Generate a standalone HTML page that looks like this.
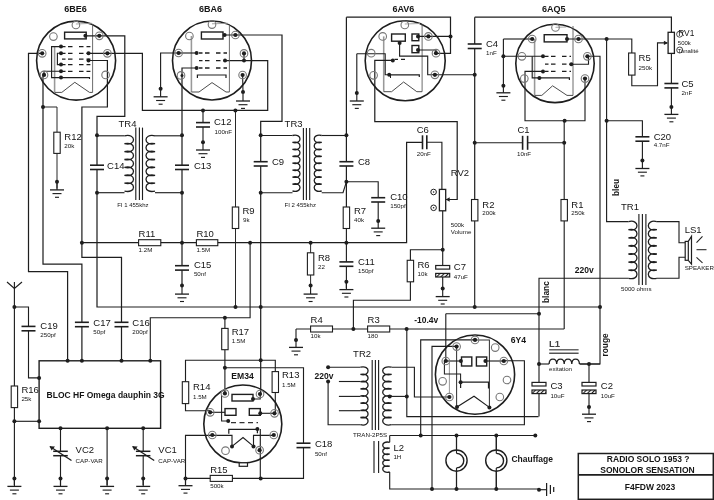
<!DOCTYPE html>
<html><head><meta charset="utf-8"><style>
html,body{margin:0;padding:0;background:#fff;}
svg{display:block;font-family:"Liberation Sans",sans-serif;will-change:transform;}
</style></head><body>
<svg width="714" height="500" viewBox="0 0 714 500">
<defs><pattern id="hatch" width="3" height="3" patternUnits="userSpaceOnUse" patternTransform="rotate(45)"><rect width="3" height="3" fill="#fff"/><line x1="0" y1="0" x2="0" y2="3" stroke="#1e1e1e" stroke-width="2.3"/></pattern></defs>
<rect width="714" height="500" fill="#fff"/>
<circle cx="76.1" cy="60.6" r="39.5" fill="none" stroke="#1e1e1e" stroke-width="1.6"/>
<polyline points="54.6,46.0 54.6,92.4" fill="none" stroke="#999" stroke-width="1.57"/>
<polyline points="92.6,24.0 92.6,92.4" fill="none" stroke="#555" stroke-width="0.87"/>
<polyline points="54.6,92.4 61.8,92.4 74.8,82.3 89.5,92.4 92.6,92.4" fill="none" stroke="#444" stroke-width="0.96"/>
<polyline points="85.4,35.8 124.8,35.8 124.8,116.3 97.0,116.3 97.0,307.0 600.0,307.0" fill="none" stroke="#1e1e1e" stroke-width="1.22"/>
<polyline points="75.9,24.0 92.0,23.3" fill="none" stroke="#999" stroke-width="0.87"/>
<line x1="62.0" y1="46.6" x2="90.4" y2="46.6" stroke="#1e1e1e" stroke-width="1.3" stroke-dasharray="3.5,2.5,4.5,6.5,4.5,3,4.5,60"/>
<line x1="62.0" y1="53.3" x2="90.4" y2="53.3" stroke="#1e1e1e" stroke-width="1.3" stroke-dasharray="3.5,2.5,4.5,6.5,4.5,3,4.5,60"/>
<line x1="62.0" y1="59.2" x2="90.4" y2="59.2" stroke="#1e1e1e" stroke-width="1.3" stroke-dasharray="3.5,2.5,4.5,6.5,4.5,3,4.5,60"/>
<line x1="62.0" y1="64.6" x2="90.4" y2="64.6" stroke="#1e1e1e" stroke-width="1.3" stroke-dasharray="3.5,2.5,4.5,6.5,4.5,3,4.5,60"/>
<line x1="62.0" y1="71.3" x2="90.4" y2="71.3" stroke="#1e1e1e" stroke-width="1.3" stroke-dasharray="3.5,2.5,4.5,6.5,4.5,3,4.5,60"/>
<polyline points="61.0,77.6 89.5,77.6 89.5,79.0" fill="none" stroke="#1e1e1e" stroke-width="1.13"/>
<polyline points="61.0,46.6 51.6,46.6 51.6,77.6 61.0,77.6" fill="none" stroke="#1e1e1e" stroke-width="1.13"/>
<polyline points="61.0,53.3 57.4,53.3 57.4,64.6 61.0,64.6" fill="none" stroke="#1e1e1e" stroke-width="1.13"/>
<polyline points="42.2,53.3 28.5,53.3 28.5,271.7 67.6,271.7 67.6,360.8" fill="none" stroke="#1e1e1e" stroke-width="1.22"/>
<polyline points="44.0,74.9 44.0,71.3 61.0,71.3" fill="none" stroke="#1e1e1e" stroke-width="1.13"/>
<polyline points="43.0,74.9 43.0,264.1 81.9,264.1 81.9,360.8" fill="none" stroke="#1e1e1e" stroke-width="1.22"/>
<polyline points="43.0,107.0 57.0,107.0 57.0,132.2" fill="none" stroke="#1e1e1e" stroke-width="0.96"/>
<polyline points="57.0,153.4 57.0,188.5" fill="none" stroke="#1e1e1e" stroke-width="0.96"/>
<polyline points="57.0,182.4 57.0,189.9" fill="none" stroke="#1e1e1e" stroke-width="1.13"/>
<polyline points="50.0,189.9 64.0,189.9" fill="none" stroke="#1e1e1e" stroke-width="1.30"/>
<polyline points="52.5,193.6 61.5,193.6" fill="none" stroke="#1e1e1e" stroke-width="1.13"/>
<polyline points="55.0,197.3 59.0,197.3" fill="none" stroke="#1e1e1e" stroke-width="1.13"/>
<polyline points="88.5,60.5 107.4,60.5 107.4,107.0 81.9,107.0 81.9,257.3 121.5,257.3 121.5,360.8" fill="none" stroke="#1e1e1e" stroke-width="1.22"/>
<polyline points="88.5,53.3 107.4,53.3 142.4,53.3 142.4,110.4 267.7,110.4 267.7,60.6 225.0,60.6" fill="none" stroke="#1e1e1e" stroke-width="1.22"/>
<circle cx="212.0" cy="60.5" r="39.5" fill="none" stroke="#1e1e1e" stroke-width="1.6"/>
<polyline points="191.4,36.0 191.4,92.0" fill="none" stroke="#999" stroke-width="1.57"/>
<polyline points="229.4,24.0 229.4,92.0" fill="none" stroke="#555" stroke-width="0.87"/>
<polyline points="191.4,92.0 199.0,92.0 212.0,82.6 226.0,92.0 229.4,92.0" fill="none" stroke="#444" stroke-width="0.96"/>
<polyline points="224.6,35.0 282.0,35.0 282.0,121.3 260.7,121.3 260.7,393.0" fill="none" stroke="#1e1e1e" stroke-width="1.22"/>
<polyline points="212.0,23.8 228.0,23.3" fill="none" stroke="#999" stroke-width="0.87"/>
<line x1="199.0" y1="53.0" x2="227.0" y2="53.0" stroke="#1e1e1e" stroke-width="1.3" stroke-dasharray="3.5,2.5,4.5,6.5,4.5,3,4.5,60"/>
<line x1="199.0" y1="60.6" x2="227.0" y2="60.6" stroke="#1e1e1e" stroke-width="1.3" stroke-dasharray="3.5,2.5,4.5,6.5,4.5,3,4.5,60"/>
<line x1="199.0" y1="68.0" x2="227.0" y2="68.0" stroke="#1e1e1e" stroke-width="1.3" stroke-dasharray="3.5,2.5,4.5,6.5,4.5,3,4.5,60"/>
<polyline points="197.4,78.0 197.4,75.0 226.0,75.0 226.0,78.0" fill="none" stroke="#1e1e1e" stroke-width="1.22"/>
<polyline points="178.6,53.0 160.6,53.0 160.6,88.7" fill="none" stroke="#1e1e1e" stroke-width="1.13"/>
<polyline points="160.6,89.3 160.6,96.8" fill="none" stroke="#1e1e1e" stroke-width="1.13"/>
<polyline points="153.6,96.8 167.6,96.8" fill="none" stroke="#1e1e1e" stroke-width="1.30"/>
<polyline points="156.1,100.5 165.1,100.5" fill="none" stroke="#1e1e1e" stroke-width="1.13"/>
<polyline points="158.6,104.2 162.6,104.2" fill="none" stroke="#1e1e1e" stroke-width="1.13"/>
<polyline points="178.6,53.0 196.6,53.0" fill="none" stroke="#1e1e1e" stroke-width="1.13"/>
<polyline points="244.0,53.4 244.0,60.6" fill="none" stroke="#1e1e1e" stroke-width="1.13"/>
<polyline points="242.6,75.0 243.0,92.0" fill="none" stroke="#1e1e1e" stroke-width="1.13"/>
<polyline points="243.0,93.5 243.0,101.0" fill="none" stroke="#1e1e1e" stroke-width="1.13"/>
<polyline points="236.0,101.0 250.0,101.0" fill="none" stroke="#1e1e1e" stroke-width="1.30"/>
<polyline points="238.5,104.7 247.5,104.7" fill="none" stroke="#1e1e1e" stroke-width="1.13"/>
<polyline points="241.0,108.4 245.0,108.4" fill="none" stroke="#1e1e1e" stroke-width="1.13"/>
<polyline points="196.6,68.0 182.0,68.0 182.0,285.5" fill="none" stroke="#1e1e1e" stroke-width="1.22"/>
<polyline points="203.0,110.4 203.0,142.3" fill="none" stroke="#1e1e1e" stroke-width="1.13"/>
<polyline points="203.0,142.5 203.0,150.0" fill="none" stroke="#1e1e1e" stroke-width="1.13"/>
<polyline points="196.0,150.0 210.0,150.0" fill="none" stroke="#1e1e1e" stroke-width="1.30"/>
<polyline points="198.5,153.7 207.5,153.7" fill="none" stroke="#1e1e1e" stroke-width="1.13"/>
<polyline points="201.0,157.4 205.0,157.4" fill="none" stroke="#1e1e1e" stroke-width="1.13"/>
<polyline points="235.5,110.4 235.5,207.0" fill="none" stroke="#1e1e1e" stroke-width="0.96"/>
<polyline points="235.5,228.5 235.5,307.0" fill="none" stroke="#1e1e1e" stroke-width="0.96"/>
<polyline points="97.0,135.8 124.5,135.8" fill="none" stroke="#1e1e1e" stroke-width="1.13"/>
<polyline points="97.0,192.7 124.5,192.7" fill="none" stroke="#1e1e1e" stroke-width="1.13"/>
<path d="M124.5,135.8 C136.5,133.0 136.5,146.5 124.5,143.7 C136.5,140.9 136.5,154.4 124.5,151.6 C136.5,148.8 136.5,162.3 124.5,159.5 C136.5,156.7 136.5,170.2 124.5,167.4 C136.5,164.6 136.5,178.1 124.5,175.3 C136.5,172.5 136.5,186.0 124.5,183.2 C136.5,180.4 136.5,193.9 124.5,191.1 " fill="none" stroke="#1e1e1e" stroke-width="1.3"/>
<polyline points="135.8,127.6 135.8,200.0" fill="none" stroke="#1e1e1e" stroke-width="1.13"/>
<polyline points="139.4,127.6 139.4,200.0" fill="none" stroke="#1e1e1e" stroke-width="1.13"/>
<polyline points="142.5,127.6 142.5,200.0" fill="none" stroke="#1e1e1e" stroke-width="1.13"/>
<path d="M155.0,135.8 C143.0,133.0 143.0,146.5 155.0,143.7 C143.0,140.9 143.0,154.4 155.0,151.6 C143.0,148.8 143.0,162.3 155.0,159.5 C143.0,156.7 143.0,170.2 155.0,167.4 C143.0,164.6 143.0,178.1 155.0,175.3 C143.0,172.5 143.0,186.0 155.0,183.2 C143.0,180.4 143.0,193.9 155.0,191.1 " fill="none" stroke="#1e1e1e" stroke-width="1.3"/>
<polyline points="155.0,135.8 182.0,135.8" fill="none" stroke="#1e1e1e" stroke-width="1.13"/>
<polyline points="155.0,192.7 182.0,192.7" fill="none" stroke="#1e1e1e" stroke-width="1.13"/>
<polyline points="260.7,135.5 292.5,135.5" fill="none" stroke="#1e1e1e" stroke-width="1.13"/>
<polyline points="260.7,192.7 292.5,192.7" fill="none" stroke="#1e1e1e" stroke-width="1.13"/>
<path d="M292.5,135.5 C302.5,133.1 302.5,144.9 292.5,142.4 C302.5,140.0 302.5,151.8 292.5,149.4 C302.5,146.9 302.5,158.7 292.5,156.3 C302.5,153.9 302.5,165.7 292.5,163.2 C302.5,160.8 302.5,172.6 292.5,170.2 C302.5,167.8 302.5,179.6 292.5,177.1 C302.5,174.7 302.5,186.5 292.5,184.1 C302.5,181.6 302.5,193.4 292.5,191.0 " fill="none" stroke="#1e1e1e" stroke-width="1.3"/>
<polyline points="303.4,128.0 303.4,200.0" fill="none" stroke="#1e1e1e" stroke-width="1.13"/>
<polyline points="306.4,128.0 306.4,200.0" fill="none" stroke="#1e1e1e" stroke-width="1.13"/>
<polyline points="309.7,128.0 309.7,200.0" fill="none" stroke="#1e1e1e" stroke-width="1.13"/>
<path d="M321.7,135.5 C311.7,133.1 311.7,144.9 321.7,142.4 C311.7,140.0 311.7,151.8 321.7,149.4 C311.7,146.9 311.7,158.7 321.7,156.3 C311.7,153.9 311.7,165.7 321.7,163.2 C311.7,160.8 311.7,172.6 321.7,170.2 C311.7,167.8 311.7,179.6 321.7,177.1 C311.7,174.7 311.7,186.5 321.7,184.1 C311.7,181.6 311.7,193.4 321.7,191.0 " fill="none" stroke="#1e1e1e" stroke-width="1.3"/>
<polyline points="321.7,135.5 346.4,135.5" fill="none" stroke="#1e1e1e" stroke-width="1.13"/>
<polyline points="321.7,192.7 343.0,192.7 346.4,181.8" fill="none" stroke="#1e1e1e" stroke-width="1.13"/>
<polyline points="346.4,17.2 450.5,17.2 450.5,53.4 436.0,53.4" fill="none" stroke="#1e1e1e" stroke-width="1.22"/>
<polyline points="346.4,17.2 346.4,207.0" fill="none" stroke="#1e1e1e" stroke-width="1.22"/>
<polyline points="346.4,228.5 346.4,288.0" fill="none" stroke="#1e1e1e" stroke-width="1.13"/>
<polyline points="346.4,181.8 378.2,181.8 378.2,221.0" fill="none" stroke="#1e1e1e" stroke-width="1.13"/>
<polyline points="378.2,220.7 378.2,228.2" fill="none" stroke="#1e1e1e" stroke-width="1.13"/>
<polyline points="371.2,228.2 385.2,228.2" fill="none" stroke="#1e1e1e" stroke-width="1.30"/>
<polyline points="373.7,231.9 382.7,231.9" fill="none" stroke="#1e1e1e" stroke-width="1.13"/>
<polyline points="376.2,235.6 380.2,235.6" fill="none" stroke="#1e1e1e" stroke-width="1.13"/>
<polyline points="346.4,282.1 346.4,289.6" fill="none" stroke="#1e1e1e" stroke-width="1.13"/>
<polyline points="339.4,289.6 353.4,289.6" fill="none" stroke="#1e1e1e" stroke-width="1.30"/>
<polyline points="341.9,293.3 350.9,293.3" fill="none" stroke="#1e1e1e" stroke-width="1.13"/>
<polyline points="344.4,297.0 348.4,297.0" fill="none" stroke="#1e1e1e" stroke-width="1.13"/>
<polyline points="81.9,242.7 406.6,242.7 406.6,142.3 422.5,142.3" fill="none" stroke="#1e1e1e" stroke-width="1.22"/>
<polyline points="182.0,286.6 182.0,294.1" fill="none" stroke="#1e1e1e" stroke-width="1.13"/>
<polyline points="175.0,294.1 189.0,294.1" fill="none" stroke="#1e1e1e" stroke-width="1.30"/>
<polyline points="177.5,297.8 186.5,297.8" fill="none" stroke="#1e1e1e" stroke-width="1.13"/>
<polyline points="180.0,301.5 184.0,301.5" fill="none" stroke="#1e1e1e" stroke-width="1.13"/>
<polyline points="310.6,242.7 310.6,285.5" fill="none" stroke="#1e1e1e" stroke-width="0.96"/>
<polyline points="310.6,286.6 310.6,294.1" fill="none" stroke="#1e1e1e" stroke-width="1.13"/>
<polyline points="303.6,294.1 317.6,294.1" fill="none" stroke="#1e1e1e" stroke-width="1.30"/>
<polyline points="306.1,297.8 315.1,297.8" fill="none" stroke="#1e1e1e" stroke-width="1.13"/>
<polyline points="308.6,301.5 312.6,301.5" fill="none" stroke="#1e1e1e" stroke-width="1.13"/>
<circle cx="405.2" cy="60.8" r="40" fill="none" stroke="#1e1e1e" stroke-width="1.6"/>
<polyline points="383.7,36.4 383.7,91.7" fill="none" stroke="#999" stroke-width="1.57"/>
<polyline points="422.1,24.0 422.1,91.7" fill="none" stroke="#555" stroke-width="0.87"/>
<polyline points="383.7,91.7 391.6,91.7 403.6,82.0 416.8,91.7 422.1,91.7" fill="none" stroke="#444" stroke-width="0.96"/>
<polyline points="418.0,36.4 450.5,36.4" fill="none" stroke="#1e1e1e" stroke-width="1.13"/>
<polyline points="418.0,50.0 436.0,50.0 436.0,53.4" fill="none" stroke="#1e1e1e" stroke-width="1.13"/>
<polyline points="404.8,24.0 420.0,23.5" fill="none" stroke="#999" stroke-width="0.87"/>
<polyline points="399.6,41.2 399.6,56.1 427.7,56.1 427.7,74.8 474.7,74.8" fill="none" stroke="#1e1e1e" stroke-width="1.13"/>
<line x1="394.5" y1="59.4" x2="405" y2="59.4" stroke="#1e1e1e" stroke-width="1.2" stroke-dasharray="3.5,3,4,50"/>
<polyline points="392.8,60.4 374.8,60.4 374.8,121.7 457.2,121.7 457.2,199.5 446.0,199.5" fill="none" stroke="#1e1e1e" stroke-width="1.22"/>
<path d="M445.7,199.5 l4,-2.2 v4.4 z" fill="#1e1e1e"/>
<polyline points="389.2,74.8 419.3,74.8 419.3,77.0" fill="none" stroke="#1e1e1e" stroke-width="1.22"/>
<polyline points="390.5,74.8 390.5,78.0" fill="none" stroke="#1e1e1e" stroke-width="1.04"/>
<polyline points="356.8,53.7 385.2,53.7 385.2,74.8 389.2,74.8" fill="none" stroke="#1e1e1e" stroke-width="1.13"/>
<polyline points="356.8,53.7 356.8,92.9" fill="none" stroke="#1e1e1e" stroke-width="1.13"/>
<polyline points="356.8,93.5 356.8,101.0" fill="none" stroke="#1e1e1e" stroke-width="1.13"/>
<polyline points="349.8,101.0 363.8,101.0" fill="none" stroke="#1e1e1e" stroke-width="1.30"/>
<polyline points="352.3,104.7 361.3,104.7" fill="none" stroke="#1e1e1e" stroke-width="1.13"/>
<polyline points="354.8,108.4 358.8,108.4" fill="none" stroke="#1e1e1e" stroke-width="1.13"/>
<polyline points="474.7,17.2 671.4,17.2 671.4,32.3" fill="none" stroke="#1e1e1e" stroke-width="1.22"/>
<polyline points="474.7,17.2 474.7,199.5" fill="none" stroke="#1e1e1e" stroke-width="1.22"/>
<polyline points="474.7,142.8 522.6,142.8" fill="none" stroke="#1e1e1e" stroke-width="1.13"/>
<polyline points="527.6,142.8 564.2,142.8" fill="none" stroke="#1e1e1e" stroke-width="1.13"/>
<polyline points="474.7,220.9 474.7,307.0" fill="none" stroke="#1e1e1e" stroke-width="1.13"/>
<polyline points="426.8,142.3 441.9,142.3 441.9,189.4" fill="none" stroke="#1e1e1e" stroke-width="1.13"/>
<circle cx="433.6" cy="192.0" r="2.8" fill="none" stroke="#1e1e1e" stroke-width="1.0"/>
<circle cx="433.6" cy="207.8" r="2.8" fill="none" stroke="#1e1e1e" stroke-width="1.0"/>
<polyline points="442.7,210.8 442.7,249.7 410.4,249.7 410.4,260.3" fill="none" stroke="#1e1e1e" stroke-width="1.13"/>
<polyline points="410.4,281.8 410.4,300.2 353.4,300.2 353.4,329.0" fill="none" stroke="#1e1e1e" stroke-width="1.13"/>
<polyline points="442.7,249.7 442.7,288.6" fill="none" stroke="#1e1e1e" stroke-width="1.13"/>
<polyline points="442.7,289.1 442.7,296.6" fill="none" stroke="#1e1e1e" stroke-width="1.13"/>
<polyline points="435.7,296.6 449.7,296.6" fill="none" stroke="#1e1e1e" stroke-width="1.30"/>
<polyline points="438.2,300.3 447.2,300.3" fill="none" stroke="#1e1e1e" stroke-width="1.13"/>
<polyline points="440.7,304.0 444.7,304.0" fill="none" stroke="#1e1e1e" stroke-width="1.13"/>
<circle cx="555.0" cy="63.4" r="39.2" fill="none" stroke="#1e1e1e" stroke-width="1.6"/>
<polyline points="534.6,39.0 534.6,95.4" fill="none" stroke="#999" stroke-width="1.57"/>
<polyline points="573.0,26.0 573.0,95.4" fill="none" stroke="#555" stroke-width="0.87"/>
<polyline points="534.6,95.4 541.8,95.4 552.6,85.8 567.0,95.4 573.0,95.4" fill="none" stroke="#444" stroke-width="0.96"/>
<polyline points="503.4,39.0 532.2,39.0" fill="none" stroke="#1e1e1e" stroke-width="1.13"/>
<polyline points="503.4,39.0 503.4,85.8" fill="none" stroke="#1e1e1e" stroke-width="1.13"/>
<polyline points="503.4,85.3 503.4,92.8" fill="none" stroke="#1e1e1e" stroke-width="1.13"/>
<polyline points="496.4,92.8 510.4,92.8" fill="none" stroke="#1e1e1e" stroke-width="1.30"/>
<polyline points="498.9,96.5 507.9,96.5" fill="none" stroke="#1e1e1e" stroke-width="1.13"/>
<polyline points="501.4,100.2 505.4,100.2" fill="none" stroke="#1e1e1e" stroke-width="1.13"/>
<polyline points="503.4,56.3 543.0,56.3" fill="none" stroke="#1e1e1e" stroke-width="1.13"/>
<line x1="545.0" y1="56.3" x2="571.0" y2="56.3" stroke="#1e1e1e" stroke-width="1.3" stroke-dasharray="3.5,2.5,4.5,6.5,4.5,3,4.5,60"/>
<line x1="545.0" y1="64.2" x2="571.0" y2="64.2" stroke="#1e1e1e" stroke-width="1.3" stroke-dasharray="3.5,2.5,4.5,6.5,4.5,3,4.5,60"/>
<line x1="545.0" y1="71.4" x2="571.0" y2="71.4" stroke="#1e1e1e" stroke-width="1.3" stroke-dasharray="3.5,2.5,4.5,6.5,4.5,3,4.5,60"/>
<polyline points="539.4,80.0 539.4,77.9 569.4,77.9 569.4,80.0" fill="none" stroke="#1e1e1e" stroke-width="1.22"/>
<polyline points="532.2,56.3 532.2,77.9 539.4,77.9" fill="none" stroke="#1e1e1e" stroke-width="1.13"/>
<polyline points="543.0,71.4 525.0,71.4 525.0,120.8 585.0,120.8 585.0,78.6" fill="none" stroke="#1e1e1e" stroke-width="1.13"/>
<polyline points="571.3,64.2 588.5,64.2 588.5,56.3" fill="none" stroke="#1e1e1e" stroke-width="1.13"/>
<polyline points="555.5,27.3 566.3,27.0" fill="none" stroke="#999" stroke-width="0.87"/>
<polyline points="567.0,39.0 631.8,39.0 631.8,53.0" fill="none" stroke="#1e1e1e" stroke-width="1.13"/>
<polyline points="631.8,75.1 631.8,85.7 657.5,85.7 657.5,42.9 667.0,42.9" fill="none" stroke="#1e1e1e" stroke-width="1.13"/>
<path d="M668.1,42.9 l-4.2,-2.2 v4.4 z" fill="#1e1e1e"/>
<polyline points="671.4,53.4 671.4,107.1" fill="none" stroke="#1e1e1e" stroke-width="1.13"/>
<polyline points="671.4,106.9 671.4,114.4" fill="none" stroke="#1e1e1e" stroke-width="1.13"/>
<polyline points="664.4,114.4 678.4,114.4" fill="none" stroke="#1e1e1e" stroke-width="1.30"/>
<polyline points="666.9,118.1 675.9,118.1" fill="none" stroke="#1e1e1e" stroke-width="1.13"/>
<polyline points="669.4,121.8 673.4,121.8" fill="none" stroke="#1e1e1e" stroke-width="1.13"/>
<circle cx="679.6" cy="34.2" r="3" fill="none" stroke="#1e1e1e" stroke-width="0.8"/>
<circle cx="679.7" cy="50.0" r="3" fill="none" stroke="#1e1e1e" stroke-width="0.8"/>
<polyline points="587.4,56.3 600.0,56.3 600.0,364.0 580.0,364.0" fill="none" stroke="#1e1e1e" stroke-width="1.13"/>
<polyline points="606.6,39.0 606.6,221.6 628.5,221.6" fill="none" stroke="#1e1e1e" stroke-width="1.13"/>
<polyline points="606.6,120.8 642.4,120.8 642.4,160.4" fill="none" stroke="#1e1e1e" stroke-width="1.13"/>
<polyline points="642.4,161.0 642.4,168.5" fill="none" stroke="#1e1e1e" stroke-width="1.13"/>
<polyline points="635.4,168.5 649.4,168.5" fill="none" stroke="#1e1e1e" stroke-width="1.30"/>
<polyline points="637.9,172.2 646.9,172.2" fill="none" stroke="#1e1e1e" stroke-width="1.13"/>
<polyline points="640.4,175.9 644.4,175.9" fill="none" stroke="#1e1e1e" stroke-width="1.13"/>
<polyline points="564.2,120.8 564.2,199.5" fill="none" stroke="#1e1e1e" stroke-width="1.13"/>
<polyline points="564.2,220.9 564.2,329.0" fill="none" stroke="#1e1e1e" stroke-width="1.13"/>
<path d="M628.5,221.6 C639.8,218.8 639.8,232.5 628.5,229.7 C639.8,226.9 639.8,240.6 628.5,237.8 C639.8,235.0 639.8,248.7 628.5,245.9 C639.8,243.1 639.8,256.8 628.5,254.0 C639.8,251.2 639.8,264.9 628.5,262.1 C639.8,259.3 639.8,273.0 628.5,270.2 C639.8,267.4 639.8,281.1 628.5,278.3 " fill="none" stroke="#1e1e1e" stroke-width="1.3"/>
<polyline points="638.9,214.0 638.9,285.0" fill="none" stroke="#1e1e1e" stroke-width="1.13"/>
<polyline points="642.4,214.0 642.4,285.0" fill="none" stroke="#1e1e1e" stroke-width="1.13"/>
<polyline points="645.9,214.0 645.9,285.0" fill="none" stroke="#1e1e1e" stroke-width="1.13"/>
<path d="M656.8,221.6 C645.5,218.8 645.5,232.5 656.8,229.7 C645.5,226.9 645.5,240.6 656.8,237.8 C645.5,235.0 645.5,248.7 656.8,245.9 C645.5,243.1 645.5,256.8 656.8,254.0 C645.5,251.2 645.5,264.9 656.8,262.1 C645.5,259.3 645.5,273.0 656.8,270.2 C645.5,267.4 645.5,281.1 656.8,278.3 " fill="none" stroke="#1e1e1e" stroke-width="1.3"/>
<polyline points="628.5,278.3 539.0,278.3 539.0,416.6" fill="none" stroke="#1e1e1e" stroke-width="1.13"/>
<polyline points="656.8,221.6 679.0,221.6 679.0,242.7 685.2,242.7" fill="none" stroke="#1e1e1e" stroke-width="1.13"/>
<polyline points="656.8,278.3 679.0,278.3 679.0,257.3 685.2,257.3" fill="none" stroke="#1e1e1e" stroke-width="1.13"/>
<path d="M688.3,241.4 L691.5,236.4 L691.5,264.1 L688.3,260.3" fill="none" stroke="#1e1e1e" stroke-width="1.2"/>
<polyline points="696.5,242.7 702.5,236.4" fill="none" stroke="#1e1e1e" stroke-width="1.04"/>
<polyline points="696.5,249.7 706.5,249.7" fill="none" stroke="#1e1e1e" stroke-width="1.04"/>
<polyline points="696.5,257.3 702.5,262.8" fill="none" stroke="#1e1e1e" stroke-width="1.04"/>
<polyline points="296.0,329.0 564.2,329.0" fill="none" stroke="#1e1e1e" stroke-width="1.13"/>
<polyline points="296.0,329.0 296.0,340.0" fill="none" stroke="#1e1e1e" stroke-width="1.13"/>
<polyline points="296.0,339.9 296.0,347.4" fill="none" stroke="#1e1e1e" stroke-width="1.13"/>
<polyline points="289.0,347.4 303.0,347.4" fill="none" stroke="#1e1e1e" stroke-width="1.30"/>
<polyline points="291.5,351.1 300.5,351.1" fill="none" stroke="#1e1e1e" stroke-width="1.13"/>
<polyline points="294.0,354.8 298.0,354.8" fill="none" stroke="#1e1e1e" stroke-width="1.13"/>
<polyline points="406.8,329.0 406.8,416.6 538.5,416.6" fill="none" stroke="#1e1e1e" stroke-width="1.13"/>
<polyline points="445.8,313.8 539.0,313.8" fill="none" stroke="#1e1e1e" stroke-width="1.13"/>
<polyline points="445.8,313.8 445.8,361.0" fill="none" stroke="#1e1e1e" stroke-width="1.13"/>
<circle cx="475.0" cy="374.6" r="39.6" fill="none" stroke="#1e1e1e" stroke-width="1.6"/>
<polyline points="449.4,363.0 449.4,394.0" fill="none" stroke="#888" stroke-width="0.87"/>
<polyline points="475.0,339.9 489.4,339.9 489.4,407.4" fill="none" stroke="#333" stroke-width="1.04"/>
<polyline points="456.6,346.6 456.6,407.0" fill="none" stroke="#333" stroke-width="1.04"/>
<polyline points="457.0,407.0 474.0,396.2 489.4,407.4" fill="none" stroke="#1e1e1e" stroke-width="1.13"/>
<polyline points="445.8,361.0 460.9,361.0" fill="none" stroke="#1e1e1e" stroke-width="1.13"/>
<polyline points="485.4,361.0 503.8,361.0" fill="none" stroke="#1e1e1e" stroke-width="1.13"/>
<polyline points="445.8,361.0 444.4,361.0 444.4,374.1 460.6,374.1 460.6,382.2" fill="none" stroke="#1e1e1e" stroke-width="1.04"/>
<polyline points="460.6,388.0 460.6,382.2 488.5,382.2 488.5,388.5" fill="none" stroke="#1e1e1e" stroke-width="1.22"/>
<polyline points="475.0,339.9 420.7,339.9 420.7,435.5" fill="none" stroke="#1e1e1e" stroke-width="1.13"/>
<polyline points="456.5,346.4 432.0,346.4 432.0,489.0" fill="none" stroke="#1e1e1e" stroke-width="1.13"/>
<polyline points="328.1,367.2 360.5,367.2" fill="none" stroke="#1e1e1e" stroke-width="1.13"/>
<polyline points="328.1,381.5 328.1,424.7 360.5,424.7" fill="none" stroke="#1e1e1e" stroke-width="1.13"/>
<polyline points="338.9,381.5 360.5,381.5" fill="none" stroke="#1e1e1e" stroke-width="1.13"/>
<polyline points="338.9,396.4 360.5,396.4" fill="none" stroke="#1e1e1e" stroke-width="1.13"/>
<polyline points="338.9,410.7 360.5,410.7" fill="none" stroke="#1e1e1e" stroke-width="1.13"/>
<path d="M360.5,367.2 C370.6,364.7 370.6,376.9 360.5,374.4 C370.6,371.9 370.6,384.1 360.5,381.6 C370.6,379.1 370.6,391.3 360.5,388.8 C370.6,386.2 370.6,398.5 360.5,395.9 C370.6,393.4 370.6,405.7 360.5,403.1 C370.6,400.6 370.6,412.8 360.5,410.3 C370.6,407.8 370.6,420.0 360.5,417.5 C370.6,415.0 370.6,427.2 360.5,424.7 " fill="none" stroke="#1e1e1e" stroke-width="1.3"/>
<polyline points="372.2,359.9 372.2,430.0" fill="none" stroke="#1e1e1e" stroke-width="1.13"/>
<polyline points="375.4,359.9 375.4,430.0" fill="none" stroke="#1e1e1e" stroke-width="1.13"/>
<polyline points="378.6,359.9 378.6,430.0" fill="none" stroke="#1e1e1e" stroke-width="1.13"/>
<path d="M391.6,367.2 C379.7,364.7 379.7,376.9 391.6,374.4 C379.7,371.9 379.7,384.1 391.6,381.6 C379.7,379.1 379.7,391.3 391.6,388.8 C379.7,386.2 379.7,398.5 391.6,395.9 C379.7,393.4 379.7,405.7 391.6,403.1 C379.7,400.6 379.7,412.8 391.6,410.3 C379.7,407.8 379.7,420.0 391.6,417.5 C379.7,415.0 379.7,427.2 391.6,424.7 " fill="none" stroke="#1e1e1e" stroke-width="1.3"/>
<polyline points="391.6,367.2 414.4,367.2 414.4,397.0 449.4,397.0" fill="none" stroke="#1e1e1e" stroke-width="1.13"/>
<polyline points="389.7,396.4 406.8,396.4" fill="none" stroke="#1e1e1e" stroke-width="1.13"/>
<polyline points="391.6,424.7 524.4,424.7 524.4,360.8 503.9,360.8" fill="none" stroke="#1e1e1e" stroke-width="1.13"/>
<polyline points="389.7,435.5 535.3,435.5" fill="none" stroke="#1e1e1e" stroke-width="1.13"/>
<polyline points="389.7,435.5 389.7,442.3" fill="none" stroke="#1e1e1e" stroke-width="1.13"/>
<path d="M389.7,442.3 C380.4,440.2 380.4,450.3 389.7,448.2 C380.4,446.2 380.4,456.3 389.7,454.2 C380.4,452.1 380.4,462.2 389.7,460.1 C380.4,458.0 380.4,468.1 389.7,466.1 C380.4,464.0 380.4,474.1 389.7,472.0 " fill="none" stroke="#1e1e1e" stroke-width="1.3"/>
<polyline points="374.0,441.0 374.0,473.0" fill="none" stroke="#1e1e1e" stroke-width="1.13"/>
<polyline points="378.6,441.0 378.6,473.0" fill="none" stroke="#1e1e1e" stroke-width="1.13"/>
<polyline points="389.7,472.0 389.7,489.0 539.0,489.0" fill="none" stroke="#1e1e1e" stroke-width="1.13"/>
<polyline points="456.5,435.5 456.5,489.0" fill="none" stroke="#1e1e1e" stroke-width="1.13"/>
<circle cx="456.5" cy="460.6" r="10.6" fill="#fff" stroke="#1e1e1e" stroke-width="1.4"/>
<path d="M456.5,453.4 A6.5,6.5 0 0 1 456.5,467.9" fill="none" stroke="#1e1e1e" stroke-width="1.4"/>
<polyline points="456.5,435.5 456.5,453.4" fill="none" stroke="#1e1e1e" stroke-width="1.13"/>
<polyline points="456.5,467.9 456.5,489.0" fill="none" stroke="#1e1e1e" stroke-width="1.13"/>
<polyline points="496.3,435.5 496.3,489.0" fill="none" stroke="#1e1e1e" stroke-width="1.13"/>
<circle cx="496.3" cy="460.6" r="10.6" fill="#fff" stroke="#1e1e1e" stroke-width="1.4"/>
<path d="M496.3,453.4 A6.5,6.5 0 0 1 496.3,467.9" fill="none" stroke="#1e1e1e" stroke-width="1.4"/>
<polyline points="496.3,435.5 496.3,453.4" fill="none" stroke="#1e1e1e" stroke-width="1.13"/>
<polyline points="496.3,467.9 496.3,489.0" fill="none" stroke="#1e1e1e" stroke-width="1.13"/>
<polyline points="539.0,489.7 546.6,489.7" fill="none" stroke="#1e1e1e" stroke-width="1.13"/>
<polyline points="546.6,483.0 546.6,496.0" fill="none" stroke="#1e1e1e" stroke-width="1.22"/>
<polyline points="550.4,485.0 550.4,494.0" fill="none" stroke="#1e1e1e" stroke-width="1.22"/>
<polyline points="553.7,487.0 553.7,492.0" fill="none" stroke="#1e1e1e" stroke-width="1.22"/>
<polyline points="539.0,364.0 549.1,364.0" fill="none" stroke="#1e1e1e" stroke-width="1.13"/>
<path d="M549.1,364.0 C549.1,357.4 556.7,357.4 556.7,364.0 C556.7,357.4 564.2,357.4 564.2,364.0 C564.2,357.4 571.8,357.4 571.8,364.0 C571.8,357.4 579.4,357.4 579.4,364.0 " fill="none" stroke="#1e1e1e" stroke-width="1.3"/>
<polyline points="579.4,364.0 600.0,364.0" fill="none" stroke="#1e1e1e" stroke-width="1.13"/>
<polyline points="549.2,349.8 578.6,349.8" fill="none" stroke="#444" stroke-width="1.22"/>
<polyline points="549.2,353.2 578.6,353.2" fill="none" stroke="#1e1e1e" stroke-width="1.13"/>
<polyline points="589.0,364.0 589.0,406.9" fill="none" stroke="#1e1e1e" stroke-width="1.13"/>
<polyline points="589.0,406.7 589.0,414.2" fill="none" stroke="#1e1e1e" stroke-width="1.13"/>
<polyline points="582.0,414.2 596.0,414.2" fill="none" stroke="#1e1e1e" stroke-width="1.30"/>
<polyline points="584.5,417.9 593.5,417.9" fill="none" stroke="#1e1e1e" stroke-width="1.13"/>
<polyline points="587.0,421.6 591.0,421.6" fill="none" stroke="#1e1e1e" stroke-width="1.13"/>
<circle cx="242.8" cy="424.0" r="39" fill="none" stroke="#1e1e1e" stroke-width="1.6"/>
<polyline points="253.0,399.0 260.2,399.0 260.2,393.1" fill="none" stroke="#1e1e1e" stroke-width="1.13"/>
<polyline points="210.2,412.3 225.0,412.3" fill="none" stroke="#1e1e1e" stroke-width="1.13"/>
<polyline points="260.3,413.3 275.3,413.3" fill="none" stroke="#1e1e1e" stroke-width="1.13"/>
<polyline points="221.6,395.0 221.6,421.0 228.2,421.0" fill="none" stroke="#1e1e1e" stroke-width="1.04"/>
<line x1="231" y1="422.7" x2="258" y2="422.7" stroke="#333" stroke-width="1.2" stroke-dasharray="5,3.5"/>
<polyline points="228.8,433.7 228.8,429.3 257.4,429.3 257.4,433.2" fill="none" stroke="#1e1e1e" stroke-width="1.22"/>
<polyline points="212.3,435.4 232.0,435.4 232.0,446.4 243.0,437.5 253.5,446.4 253.5,435.4 273.8,435.4" fill="none" stroke="#1e1e1e" stroke-width="1.13"/>
<polyline points="260.3,428.9 260.3,478.4" fill="none" stroke="#1e1e1e" stroke-width="1.13"/>
<polyline points="150.3,360.8 150.3,317.8 250.1,317.8 250.1,242.7" fill="none" stroke="#1e1e1e" stroke-width="1.13"/>
<polyline points="224.9,317.8 224.9,328.4" fill="none" stroke="#1e1e1e" stroke-width="1.13"/>
<polyline points="224.9,349.7 224.9,393.0" fill="none" stroke="#1e1e1e" stroke-width="1.13"/>
<polyline points="224.9,367.8 303.5,367.8 303.5,478.4 185.5,478.4" fill="none" stroke="#1e1e1e" stroke-width="1.13"/>
<polyline points="185.5,381.7 185.5,360.2 275.3,360.2 275.3,371.6" fill="none" stroke="#1e1e1e" stroke-width="1.13"/>
<polyline points="185.5,403.6 185.5,410.7 210.2,410.7" fill="none" stroke="#1e1e1e" stroke-width="1.13"/>
<polyline points="275.3,392.5 275.3,413.2" fill="none" stroke="#1e1e1e" stroke-width="1.13"/>
<polyline points="212.3,435.4 185.5,435.4 185.5,485.0" fill="none" stroke="#1e1e1e" stroke-width="1.13"/>
<polyline points="185.5,478.2 185.5,485.7" fill="none" stroke="#1e1e1e" stroke-width="1.13"/>
<polyline points="178.5,485.7 192.5,485.7" fill="none" stroke="#1e1e1e" stroke-width="1.30"/>
<polyline points="181.0,489.4 190.0,489.4" fill="none" stroke="#1e1e1e" stroke-width="1.13"/>
<polyline points="183.5,493.1 187.5,493.1" fill="none" stroke="#1e1e1e" stroke-width="1.13"/>
<polyline points="14.4,282.0 14.4,485.0" fill="none" stroke="#1e1e1e" stroke-width="1.13"/>
<polyline points="7.0,282.0 14.4,288.5 22.0,282.0" fill="none" stroke="#1e1e1e" stroke-width="1.13"/>
<polyline points="14.4,307.0 28.5,307.0 28.5,377.9 39.1,377.9" fill="none" stroke="#1e1e1e" stroke-width="1.13"/>
<polyline points="14.4,421.3 39.1,421.3" fill="none" stroke="#1e1e1e" stroke-width="1.13"/>
<polyline points="14.4,478.9 14.4,486.4" fill="none" stroke="#1e1e1e" stroke-width="1.13"/>
<polyline points="7.4,486.4 21.4,486.4" fill="none" stroke="#1e1e1e" stroke-width="1.30"/>
<polyline points="9.9,490.1 18.9,490.1" fill="none" stroke="#1e1e1e" stroke-width="1.13"/>
<polyline points="12.4,493.8 16.4,493.8" fill="none" stroke="#1e1e1e" stroke-width="1.13"/>
<polyline points="60.5,428.3 60.5,485.0" fill="none" stroke="#1e1e1e" stroke-width="1.13"/>
<polyline points="60.5,478.9 60.5,486.4" fill="none" stroke="#1e1e1e" stroke-width="1.13"/>
<polyline points="53.5,486.4 67.5,486.4" fill="none" stroke="#1e1e1e" stroke-width="1.30"/>
<polyline points="56.0,490.1 65.0,490.1" fill="none" stroke="#1e1e1e" stroke-width="1.13"/>
<polyline points="58.5,493.8 62.5,493.8" fill="none" stroke="#1e1e1e" stroke-width="1.13"/>
<polyline points="107.1,428.3 107.1,485.0" fill="none" stroke="#1e1e1e" stroke-width="1.13"/>
<polyline points="107.1,478.9 107.1,486.4" fill="none" stroke="#1e1e1e" stroke-width="1.13"/>
<polyline points="100.1,486.4 114.1,486.4" fill="none" stroke="#1e1e1e" stroke-width="1.30"/>
<polyline points="102.6,490.1 111.6,490.1" fill="none" stroke="#1e1e1e" stroke-width="1.13"/>
<polyline points="105.1,493.8 109.1,493.8" fill="none" stroke="#1e1e1e" stroke-width="1.13"/>
<polyline points="143.2,428.3 143.2,485.0" fill="none" stroke="#1e1e1e" stroke-width="1.13"/>
<polyline points="143.2,478.9 143.2,486.4" fill="none" stroke="#1e1e1e" stroke-width="1.13"/>
<polyline points="136.2,486.4 150.2,486.4" fill="none" stroke="#1e1e1e" stroke-width="1.30"/>
<polyline points="138.7,490.1 147.7,490.1" fill="none" stroke="#1e1e1e" stroke-width="1.13"/>
<polyline points="141.2,493.8 145.2,493.8" fill="none" stroke="#1e1e1e" stroke-width="1.13"/>
<polyline points="578.3,474.9 713.3,474.9" fill="none" stroke="#1e1e1e" stroke-width="1.57"/>
<rect x="64.6" y="32.2" width="21.6" height="6.7" fill="#fff" stroke="#1e1e1e" stroke-width="1.4"/>
<rect x="53.8" y="132.2" width="6.4" height="21.2" fill="#fff" stroke="#1e1e1e" stroke-width="1.1"/>
<rect x="201.4" y="32.0" width="21.6" height="7.0" fill="#fff" stroke="#1e1e1e" stroke-width="1.4"/>
<rect x="200.0" y="122.6" width="6" height="4.4" fill="#fff"/>
<polyline points="196.0,122.6 210.0,122.6" fill="none" stroke="#1e1e1e" stroke-width="1.6"/>
<polyline points="196.0,127.0 210.0,127.0" fill="none" stroke="#1e1e1e" stroke-width="1.6"/>
<rect x="232.3" y="207.0" width="6.4" height="21.5" fill="#fff" stroke="#1e1e1e" stroke-width="1.1"/>
<rect x="94.0" y="165.2" width="6" height="4.4" fill="#fff"/>
<polyline points="90.0,165.2 104.0,165.2" fill="none" stroke="#1e1e1e" stroke-width="1.6"/>
<polyline points="90.0,169.5 104.0,169.5" fill="none" stroke="#1e1e1e" stroke-width="1.6"/>
<rect x="179.0" y="165.2" width="6" height="4.4" fill="#fff"/>
<polyline points="175.0,165.2 189.0,165.2" fill="none" stroke="#1e1e1e" stroke-width="1.6"/>
<polyline points="175.0,169.5 189.0,169.5" fill="none" stroke="#1e1e1e" stroke-width="1.6"/>
<rect x="257.7" y="161.7" width="6" height="4.4" fill="#fff"/>
<polyline points="253.7,161.7 267.7,161.7" fill="none" stroke="#1e1e1e" stroke-width="1.6"/>
<polyline points="253.7,166.0 267.7,166.0" fill="none" stroke="#1e1e1e" stroke-width="1.6"/>
<rect x="343.4" y="161.7" width="6" height="4.4" fill="#fff"/>
<polyline points="339.4,161.7 353.4,161.7" fill="none" stroke="#1e1e1e" stroke-width="1.6"/>
<polyline points="339.4,166.0 353.4,166.0" fill="none" stroke="#1e1e1e" stroke-width="1.6"/>
<rect x="343.2" y="207.0" width="6.4" height="21.5" fill="#fff" stroke="#1e1e1e" stroke-width="1.1"/>
<rect x="375.2" y="197.7" width="6" height="4.4" fill="#fff"/>
<polyline points="371.2,197.7 385.2,197.7" fill="none" stroke="#1e1e1e" stroke-width="1.6"/>
<polyline points="371.2,202.0 385.2,202.0" fill="none" stroke="#1e1e1e" stroke-width="1.6"/>
<rect x="343.4" y="261.9" width="6" height="4.4" fill="#fff"/>
<polyline points="339.4,261.9 353.4,261.9" fill="none" stroke="#1e1e1e" stroke-width="1.6"/>
<polyline points="339.4,266.3 353.4,266.3" fill="none" stroke="#1e1e1e" stroke-width="1.6"/>
<rect x="138.6" y="239.7" width="22.2" height="6.0" fill="#fff" stroke="#1e1e1e" stroke-width="1.1"/>
<rect x="196.4" y="239.7" width="21.4" height="6.0" fill="#fff" stroke="#1e1e1e" stroke-width="1.1"/>
<rect x="179.0" y="265.7" width="6" height="4.4" fill="#fff"/>
<polyline points="175.0,265.7 189.0,265.7" fill="none" stroke="#1e1e1e" stroke-width="1.6"/>
<polyline points="175.0,270.1 189.0,270.1" fill="none" stroke="#1e1e1e" stroke-width="1.6"/>
<rect x="307.4" y="252.8" width="6.4" height="22.2" fill="#fff" stroke="#1e1e1e" stroke-width="1.1"/>
<rect x="391.6" y="34.0" width="13.7" height="7.2" fill="#fff" stroke="#1e1e1e" stroke-width="1.4"/>
<rect x="412.0" y="34.0" width="6.8" height="6.7" fill="#fff" stroke="#1e1e1e" stroke-width="1.4"/>
<rect x="412.0" y="45.5" width="6.8" height="7.2" fill="#fff" stroke="#1e1e1e" stroke-width="1.4"/>
<rect x="471.7" y="44.0" width="6" height="4.4" fill="#fff"/>
<polyline points="467.7,44.0 481.7,44.0" fill="none" stroke="#1e1e1e" stroke-width="1.6"/>
<polyline points="467.7,48.5 481.7,48.5" fill="none" stroke="#1e1e1e" stroke-width="1.6"/>
<rect x="522.6" y="139.8" width="5.0" height="6" fill="#fff"/>
<polyline points="522.6,135.8 522.6,149.8" fill="none" stroke="#1e1e1e" stroke-width="1.6"/>
<polyline points="527.6,135.8 527.6,149.8" fill="none" stroke="#1e1e1e" stroke-width="1.6"/>
<rect x="471.5" y="199.5" width="6.4" height="21.4" fill="#fff" stroke="#1e1e1e" stroke-width="1.1"/>
<rect x="422.5" y="139.3" width="4.3" height="6" fill="#fff"/>
<polyline points="422.5,135.3 422.5,149.3" fill="none" stroke="#1e1e1e" stroke-width="1.6"/>
<polyline points="426.8,135.3 426.8,149.3" fill="none" stroke="#1e1e1e" stroke-width="1.6"/>
<rect x="439.4" y="189.4" width="6.3" height="21.4" fill="#fff" stroke="#1e1e1e" stroke-width="1.3"/>
<rect x="407.2" y="260.3" width="6.4" height="21.5" fill="#fff" stroke="#1e1e1e" stroke-width="1.1"/>
<rect x="439.7" y="267.3" width="6" height="7.9" fill="#fff"/>
<rect x="435.7" y="265.5" width="14.0" height="3.6" fill="#fff" stroke="#1e1e1e" stroke-width="1.2"/>
<rect x="435.7" y="273.4" width="14" height="3.6" fill="url(#hatch)" stroke="#1e1e1e" stroke-width="1.2"/>
<rect x="544.2" y="34.7" width="22.8" height="7.2" fill="#fff" stroke="#1e1e1e" stroke-width="1.4"/>
<rect x="628.6" y="53.0" width="6.4" height="22.1" fill="#fff" stroke="#1e1e1e" stroke-width="1.1"/>
<rect x="668.1" y="32.3" width="6.3" height="21.1" fill="#fff" stroke="#1e1e1e" stroke-width="1.3"/>
<rect x="668.4" y="83.5" width="6" height="4.4" fill="#fff"/>
<polyline points="664.4,83.5 678.4,83.5" fill="none" stroke="#1e1e1e" stroke-width="1.6"/>
<polyline points="664.4,87.9 678.4,87.9" fill="none" stroke="#1e1e1e" stroke-width="1.6"/>
<rect x="639.4" y="136.8" width="6" height="4.4" fill="#fff"/>
<polyline points="635.4,136.8 649.4,136.8" fill="none" stroke="#1e1e1e" stroke-width="1.6"/>
<polyline points="635.4,141.2 649.4,141.2" fill="none" stroke="#1e1e1e" stroke-width="1.6"/>
<rect x="561.0" y="199.5" width="6.4" height="21.4" fill="#fff" stroke="#1e1e1e" stroke-width="1.1"/>
<rect x="685.2" y="241.4" width="3.1" height="18.9" fill="#fff" stroke="#1e1e1e" stroke-width="1.2"/>
<rect x="310.6" y="326.0" width="21.9" height="6.0" fill="#fff" stroke="#1e1e1e" stroke-width="1.1"/>
<rect x="367.6" y="326.0" width="22.1" height="6.0" fill="#fff" stroke="#1e1e1e" stroke-width="1.1"/>
<rect x="461.5" y="357.0" width="10.3" height="9.0" fill="#fff" stroke="#1e1e1e" stroke-width="1.4"/>
<rect x="476.4" y="357.0" width="10.3" height="9.0" fill="#fff" stroke="#1e1e1e" stroke-width="1.4"/>
<rect x="536.0" y="384.2" width="6" height="7.6" fill="#fff"/>
<rect x="532.0" y="382.4" width="14.0" height="3.6" fill="#fff" stroke="#1e1e1e" stroke-width="1.2"/>
<rect x="532.0" y="390.0" width="14" height="3.6" fill="url(#hatch)" stroke="#1e1e1e" stroke-width="1.2"/>
<rect x="586.0" y="384.2" width="6" height="7.6" fill="#fff"/>
<rect x="582.0" y="382.4" width="14.0" height="3.6" fill="#fff" stroke="#1e1e1e" stroke-width="1.2"/>
<rect x="582.0" y="390.0" width="14" height="3.6" fill="url(#hatch)" stroke="#1e1e1e" stroke-width="1.2"/>
<rect x="239.2" y="462.8" width="8.3" height="3.5" fill="#fff" stroke="#1e1e1e" stroke-width="1.2"/>
<rect x="232.0" y="394.4" width="21.0" height="6.6" fill="#fff" stroke="#1e1e1e" stroke-width="1.4"/>
<rect x="225.0" y="408.6" width="11.0" height="6.7" fill="#fff" stroke="#1e1e1e" stroke-width="1.4"/>
<rect x="249.3" y="408.6" width="11.0" height="6.7" fill="#fff" stroke="#1e1e1e" stroke-width="1.4"/>
<rect x="221.7" y="328.4" width="6.4" height="21.3" fill="#fff" stroke="#1e1e1e" stroke-width="1.1"/>
<rect x="300.5" y="443.2" width="6" height="4.4" fill="#fff"/>
<polyline points="296.5,443.2 310.5,443.2" fill="none" stroke="#1e1e1e" stroke-width="1.6"/>
<polyline points="296.5,447.6 310.5,447.6" fill="none" stroke="#1e1e1e" stroke-width="1.6"/>
<rect x="182.3" y="381.7" width="6.4" height="21.9" fill="#fff" stroke="#1e1e1e" stroke-width="1.1"/>
<rect x="272.1" y="371.6" width="6.4" height="20.9" fill="#fff" stroke="#1e1e1e" stroke-width="1.1"/>
<rect x="210.2" y="475.4" width="22.2" height="6.0" fill="#fff" stroke="#1e1e1e" stroke-width="1.1"/>
<rect x="39.1" y="360.8" width="121.5" height="67.5" fill="none" stroke="#1e1e1e" stroke-width="1.4"/>
<rect x="25.5" y="326.4" width="6" height="4.4" fill="#fff"/>
<polyline points="21.5,326.4 35.5,326.4" fill="none" stroke="#1e1e1e" stroke-width="1.6"/>
<polyline points="21.5,330.8 35.5,330.8" fill="none" stroke="#1e1e1e" stroke-width="1.6"/>
<rect x="78.9" y="322.3" width="6" height="4.4" fill="#fff"/>
<polyline points="74.9,322.3 88.9,322.3" fill="none" stroke="#1e1e1e" stroke-width="1.6"/>
<polyline points="74.9,326.7 88.9,326.7" fill="none" stroke="#1e1e1e" stroke-width="1.6"/>
<rect x="118.5" y="322.3" width="6" height="4.4" fill="#fff"/>
<polyline points="114.5,322.3 128.5,322.3" fill="none" stroke="#1e1e1e" stroke-width="1.6"/>
<polyline points="114.5,326.7 128.5,326.7" fill="none" stroke="#1e1e1e" stroke-width="1.6"/>
<rect x="11.2" y="386.0" width="6.4" height="21.6" fill="#fff" stroke="#1e1e1e" stroke-width="1.1"/>
<rect x="57.5" y="451.3" width="6" height="4.4" fill="#fff"/>
<polyline points="53.2,451.3 67.8,451.3" fill="none" stroke="#1e1e1e" stroke-width="1.5"/>
<polyline points="53.2,455.7 67.8,455.7" fill="none" stroke="#1e1e1e" stroke-width="1.5"/>
<rect x="140.2" y="451.3" width="6" height="4.4" fill="#fff"/>
<polyline points="135.9,451.3 150.4,451.3" fill="none" stroke="#1e1e1e" stroke-width="1.5"/>
<polyline points="135.9,455.7 150.4,455.7" fill="none" stroke="#1e1e1e" stroke-width="1.5"/>
<rect x="578.3" y="453.5" width="135.0" height="45.8" fill="none" stroke="#1e1e1e" stroke-width="1.5"/>
<circle cx="85.4" cy="35.8" r="2.0" fill="#1e1e1e"/>
<circle cx="75.9" cy="25.0" r="3.8" fill="none" stroke="#777" stroke-width="1.1"/>
<circle cx="53.4" cy="36.6" r="3.8" fill="none" stroke="#777" stroke-width="1.1"/>
<circle cx="99.3" cy="35.8" r="3.8" fill="none" stroke="#777" stroke-width="1.1"/>
<circle cx="99.3" cy="35.8" r="2.1" fill="#1e1e1e"/>
<circle cx="61.0" cy="46.6" r="2.0" fill="#1e1e1e"/>
<circle cx="61.0" cy="53.3" r="2.0" fill="#1e1e1e"/>
<circle cx="61.0" cy="64.6" r="2.0" fill="#1e1e1e"/>
<circle cx="61.0" cy="71.3" r="2.0" fill="#1e1e1e"/>
<circle cx="61.0" cy="77.6" r="2.0" fill="#1e1e1e"/>
<circle cx="88.5" cy="53.3" r="2.0" fill="#1e1e1e"/>
<circle cx="88.5" cy="60.5" r="2.0" fill="#1e1e1e"/>
<circle cx="42.2" cy="53.3" r="3.8" fill="none" stroke="#777" stroke-width="1.1"/>
<circle cx="42.2" cy="53.3" r="2.1" fill="#1e1e1e"/>
<circle cx="44.0" cy="74.9" r="3.8" fill="none" stroke="#777" stroke-width="1.1"/>
<circle cx="44.0" cy="74.9" r="2.1" fill="#1e1e1e"/>
<circle cx="105.6" cy="74.9" r="3.8" fill="none" stroke="#777" stroke-width="1.1"/>
<circle cx="43.0" cy="107.0" r="2.0" fill="#1e1e1e"/>
<circle cx="57.0" cy="181.8" r="2.0" fill="#1e1e1e"/>
<circle cx="107.4" cy="53.3" r="3.8" fill="none" stroke="#777" stroke-width="1.1"/>
<circle cx="107.4" cy="53.3" r="2.1" fill="#1e1e1e"/>
<circle cx="224.6" cy="35.0" r="2.0" fill="#1e1e1e"/>
<circle cx="212.0" cy="24.6" r="3.8" fill="none" stroke="#777" stroke-width="1.1"/>
<circle cx="189.4" cy="36.0" r="3.8" fill="none" stroke="#777" stroke-width="1.1"/>
<circle cx="235.4" cy="35.0" r="3.8" fill="none" stroke="#777" stroke-width="1.1"/>
<circle cx="235.4" cy="35.0" r="2.1" fill="#1e1e1e"/>
<circle cx="196.6" cy="53.0" r="2.0" fill="#1e1e1e"/>
<circle cx="225.0" cy="60.6" r="2.0" fill="#1e1e1e"/>
<circle cx="196.6" cy="68.0" r="2.0" fill="#1e1e1e"/>
<circle cx="160.6" cy="88.7" r="2.0" fill="#1e1e1e"/>
<circle cx="178.6" cy="53.0" r="3.8" fill="none" stroke="#777" stroke-width="1.1"/>
<circle cx="178.6" cy="53.0" r="2.1" fill="#1e1e1e"/>
<circle cx="244.0" cy="60.6" r="2.0" fill="#1e1e1e"/>
<circle cx="244.0" cy="53.4" r="3.8" fill="none" stroke="#777" stroke-width="1.1"/>
<circle cx="244.0" cy="53.4" r="2.1" fill="#1e1e1e"/>
<circle cx="243.0" cy="92.0" r="2.0" fill="#1e1e1e"/>
<circle cx="242.6" cy="75.0" r="3.8" fill="none" stroke="#777" stroke-width="1.1"/>
<circle cx="242.6" cy="75.0" r="2.1" fill="#1e1e1e"/>
<circle cx="181.0" cy="75.4" r="3.8" fill="none" stroke="#777" stroke-width="1.1"/>
<circle cx="182.0" cy="75.4" r="1.5" fill="#1e1e1e"/>
<circle cx="203.0" cy="110.4" r="2.0" fill="#1e1e1e"/>
<circle cx="235.4" cy="110.4" r="2.0" fill="#1e1e1e"/>
<circle cx="203.0" cy="142.3" r="2.0" fill="#1e1e1e"/>
<circle cx="235.5" cy="307.0" r="2.0" fill="#1e1e1e"/>
<circle cx="97.0" cy="135.2" r="2.0" fill="#1e1e1e"/>
<circle cx="97.0" cy="192.7" r="2.0" fill="#1e1e1e"/>
<circle cx="182.0" cy="135.2" r="2.0" fill="#1e1e1e"/>
<circle cx="182.0" cy="192.7" r="2.0" fill="#1e1e1e"/>
<circle cx="260.7" cy="135.2" r="2.0" fill="#1e1e1e"/>
<circle cx="260.7" cy="192.7" r="2.0" fill="#1e1e1e"/>
<circle cx="346.4" cy="135.2" r="2.0" fill="#1e1e1e"/>
<circle cx="346.4" cy="181.8" r="2.0" fill="#1e1e1e"/>
<circle cx="260.7" cy="307.0" r="2.0" fill="#1e1e1e"/>
<circle cx="378.2" cy="221.0" r="2.0" fill="#1e1e1e"/>
<circle cx="346.4" cy="281.8" r="2.0" fill="#1e1e1e"/>
<circle cx="81.9" cy="242.7" r="2.0" fill="#1e1e1e"/>
<circle cx="182.0" cy="242.7" r="2.0" fill="#1e1e1e"/>
<circle cx="250.1" cy="242.7" r="2.0" fill="#1e1e1e"/>
<circle cx="310.6" cy="242.7" r="2.0" fill="#1e1e1e"/>
<circle cx="346.4" cy="242.7" r="2.0" fill="#1e1e1e"/>
<circle cx="182.0" cy="285.5" r="2.0" fill="#1e1e1e"/>
<circle cx="310.6" cy="285.5" r="2.0" fill="#1e1e1e"/>
<circle cx="418.0" cy="36.4" r="2.0" fill="#1e1e1e"/>
<circle cx="418.0" cy="50.0" r="2.0" fill="#1e1e1e"/>
<circle cx="450.5" cy="36.4" r="2.0" fill="#1e1e1e"/>
<circle cx="404.8" cy="24.9" r="3.8" fill="none" stroke="#777" stroke-width="1.1"/>
<circle cx="382.7" cy="36.4" r="3.8" fill="none" stroke="#777" stroke-width="1.1"/>
<circle cx="428.4" cy="36.4" r="3.8" fill="none" stroke="#777" stroke-width="1.1"/>
<circle cx="428.4" cy="36.4" r="2.1" fill="#1e1e1e"/>
<circle cx="371.2" cy="53.2" r="3.8" fill="none" stroke="#777" stroke-width="1.1"/>
<circle cx="436.0" cy="53.2" r="3.8" fill="none" stroke="#777" stroke-width="1.1"/>
<circle cx="436.0" cy="53.2" r="2.1" fill="#1e1e1e"/>
<circle cx="373.6" cy="75.3" r="3.8" fill="none" stroke="#777" stroke-width="1.1"/>
<circle cx="399.6" cy="43.1" r="2.0" fill="#1e1e1e"/>
<circle cx="392.8" cy="60.4" r="2.0" fill="#1e1e1e"/>
<circle cx="389.2" cy="74.8" r="2.0" fill="#1e1e1e"/>
<circle cx="356.8" cy="92.9" r="2.0" fill="#1e1e1e"/>
<circle cx="434.9" cy="74.8" r="3.8" fill="none" stroke="#777" stroke-width="1.1"/>
<circle cx="434.9" cy="74.8" r="2.1" fill="#1e1e1e"/>
<circle cx="474.7" cy="74.8" r="2.0" fill="#1e1e1e"/>
<circle cx="474.7" cy="142.8" r="2.0" fill="#1e1e1e"/>
<circle cx="474.7" cy="307.0" r="2.0" fill="#1e1e1e"/>
<circle cx="433.6" cy="192.0" r="0.8" fill="#1e1e1e"/>
<circle cx="433.6" cy="207.8" r="0.8" fill="#1e1e1e"/>
<circle cx="442.7" cy="249.7" r="2.0" fill="#1e1e1e"/>
<circle cx="442.7" cy="288.6" r="2.0" fill="#1e1e1e"/>
<circle cx="567.0" cy="39.0" r="2.0" fill="#1e1e1e"/>
<circle cx="503.4" cy="85.8" r="2.0" fill="#1e1e1e"/>
<circle cx="503.4" cy="56.3" r="2.0" fill="#1e1e1e"/>
<circle cx="543.0" cy="56.3" r="2.0" fill="#1e1e1e"/>
<circle cx="571.3" cy="64.2" r="2.0" fill="#1e1e1e"/>
<circle cx="543.0" cy="71.4" r="2.0" fill="#1e1e1e"/>
<circle cx="539.4" cy="77.9" r="2.0" fill="#1e1e1e"/>
<circle cx="555.5" cy="27.5" r="3.8" fill="none" stroke="#777" stroke-width="1.1"/>
<circle cx="532.2" cy="39.0" r="3.8" fill="none" stroke="#777" stroke-width="1.1"/>
<circle cx="532.2" cy="39.0" r="2.1" fill="#1e1e1e"/>
<circle cx="578.5" cy="39.0" r="3.8" fill="none" stroke="#777" stroke-width="1.1"/>
<circle cx="578.5" cy="39.0" r="2.1" fill="#1e1e1e"/>
<circle cx="521.9" cy="56.3" r="3.8" fill="none" stroke="#777" stroke-width="1.1"/>
<circle cx="587.4" cy="56.3" r="3.8" fill="none" stroke="#777" stroke-width="1.1"/>
<circle cx="587.4" cy="56.3" r="2.1" fill="#1e1e1e"/>
<circle cx="524.3" cy="78.6" r="3.8" fill="none" stroke="#777" stroke-width="1.1"/>
<circle cx="585.0" cy="78.6" r="3.8" fill="none" stroke="#777" stroke-width="1.1"/>
<circle cx="585.0" cy="78.6" r="2.1" fill="#1e1e1e"/>
<circle cx="606.6" cy="39.0" r="2.0" fill="#1e1e1e"/>
<circle cx="671.4" cy="107.1" r="2.0" fill="#1e1e1e"/>
<circle cx="606.6" cy="120.8" r="2.0" fill="#1e1e1e"/>
<circle cx="564.6" cy="120.8" r="2.0" fill="#1e1e1e"/>
<circle cx="642.4" cy="160.4" r="2.0" fill="#1e1e1e"/>
<circle cx="564.2" cy="142.8" r="2.0" fill="#1e1e1e"/>
<circle cx="353.4" cy="329.0" r="2.0" fill="#1e1e1e"/>
<circle cx="406.6" cy="329.0" r="2.0" fill="#1e1e1e"/>
<circle cx="296.0" cy="340.0" r="2.0" fill="#1e1e1e"/>
<circle cx="539.0" cy="313.8" r="2.0" fill="#1e1e1e"/>
<circle cx="457.0" cy="407.0" r="2.0" fill="#1e1e1e"/>
<circle cx="489.4" cy="407.4" r="2.0" fill="#1e1e1e"/>
<circle cx="460.9" cy="361.0" r="2.0" fill="#1e1e1e"/>
<circle cx="485.4" cy="361.0" r="2.0" fill="#1e1e1e"/>
<circle cx="460.6" cy="382.2" r="2.0" fill="#1e1e1e"/>
<circle cx="475.0" cy="339.9" r="3.8" fill="none" stroke="#777" stroke-width="1.1"/>
<circle cx="475.0" cy="339.9" r="2.1" fill="#1e1e1e"/>
<circle cx="456.6" cy="346.6" r="3.8" fill="none" stroke="#777" stroke-width="1.1"/>
<circle cx="456.6" cy="346.6" r="2.1" fill="#1e1e1e"/>
<circle cx="495.2" cy="347.6" r="3.8" fill="none" stroke="#777" stroke-width="1.1"/>
<circle cx="445.8" cy="361.0" r="3.8" fill="none" stroke="#777" stroke-width="1.1"/>
<circle cx="445.8" cy="361.0" r="2.1" fill="#1e1e1e"/>
<circle cx="503.8" cy="361.0" r="3.8" fill="none" stroke="#777" stroke-width="1.1"/>
<circle cx="503.8" cy="361.0" r="2.1" fill="#1e1e1e"/>
<circle cx="442.6" cy="381.3" r="3.8" fill="none" stroke="#777" stroke-width="1.1"/>
<circle cx="507.0" cy="380.0" r="3.8" fill="none" stroke="#777" stroke-width="1.1"/>
<circle cx="449.4" cy="397.0" r="3.8" fill="none" stroke="#777" stroke-width="1.1"/>
<circle cx="449.4" cy="397.0" r="2.1" fill="#1e1e1e"/>
<circle cx="499.8" cy="397.0" r="3.8" fill="none" stroke="#777" stroke-width="1.1"/>
<circle cx="328.1" cy="367.2" r="2.0" fill="#1e1e1e"/>
<circle cx="328.1" cy="381.5" r="2.0" fill="#1e1e1e"/>
<circle cx="389.7" cy="396.4" r="2.0" fill="#1e1e1e"/>
<circle cx="406.8" cy="396.4" r="2.0" fill="#1e1e1e"/>
<circle cx="420.7" cy="435.5" r="2.0" fill="#1e1e1e"/>
<circle cx="456.5" cy="435.5" r="2.0" fill="#1e1e1e"/>
<circle cx="496.3" cy="435.5" r="2.0" fill="#1e1e1e"/>
<circle cx="535.3" cy="435.5" r="2.0" fill="#1e1e1e"/>
<circle cx="432.0" cy="489.0" r="2.0" fill="#1e1e1e"/>
<circle cx="456.5" cy="489.0" r="2.0" fill="#1e1e1e"/>
<circle cx="496.3" cy="489.0" r="2.0" fill="#1e1e1e"/>
<circle cx="539.0" cy="489.7" r="2.0" fill="#1e1e1e"/>
<circle cx="539.0" cy="364.0" r="2.0" fill="#1e1e1e"/>
<circle cx="589.0" cy="364.0" r="2.0" fill="#1e1e1e"/>
<circle cx="589.0" cy="406.9" r="2.0" fill="#1e1e1e"/>
<circle cx="253.0" cy="399.0" r="2.0" fill="#1e1e1e"/>
<circle cx="260.3" cy="413.3" r="2.0" fill="#1e1e1e"/>
<circle cx="228.2" cy="421.0" r="2.0" fill="#1e1e1e"/>
<circle cx="257.4" cy="428.9" r="2.0" fill="#1e1e1e"/>
<circle cx="232.0" cy="446.4" r="2.0" fill="#1e1e1e"/>
<circle cx="253.5" cy="446.4" r="2.0" fill="#1e1e1e"/>
<circle cx="224.9" cy="393.4" r="3.8" fill="none" stroke="#777" stroke-width="1.1"/>
<circle cx="224.9" cy="393.4" r="2.1" fill="#1e1e1e"/>
<circle cx="260.0" cy="394.0" r="3.8" fill="none" stroke="#777" stroke-width="1.1"/>
<circle cx="260.0" cy="394.0" r="2.1" fill="#1e1e1e"/>
<circle cx="210.2" cy="412.3" r="3.8" fill="none" stroke="#777" stroke-width="1.1"/>
<circle cx="210.2" cy="412.3" r="2.1" fill="#1e1e1e"/>
<circle cx="274.5" cy="413.3" r="3.8" fill="none" stroke="#777" stroke-width="1.1"/>
<circle cx="274.5" cy="413.3" r="2.1" fill="#1e1e1e"/>
<circle cx="212.3" cy="435.0" r="3.8" fill="none" stroke="#777" stroke-width="1.1"/>
<circle cx="212.3" cy="435.0" r="2.1" fill="#1e1e1e"/>
<circle cx="273.8" cy="435.0" r="3.8" fill="none" stroke="#777" stroke-width="1.1"/>
<circle cx="273.8" cy="435.0" r="2.1" fill="#1e1e1e"/>
<circle cx="225.5" cy="450.7" r="3.8" fill="none" stroke="#777" stroke-width="1.1"/>
<circle cx="259.6" cy="450.2" r="3.8" fill="none" stroke="#777" stroke-width="1.1"/>
<circle cx="259.6" cy="450.2" r="2.1" fill="#1e1e1e"/>
<circle cx="224.9" cy="317.8" r="2.0" fill="#1e1e1e"/>
<circle cx="224.9" cy="367.8" r="2.0" fill="#1e1e1e"/>
<circle cx="260.7" cy="360.2" r="2.0" fill="#1e1e1e"/>
<circle cx="185.5" cy="478.4" r="2.0" fill="#1e1e1e"/>
<circle cx="260.7" cy="478.4" r="2.0" fill="#1e1e1e"/>
<circle cx="67.6" cy="360.8" r="2.0" fill="#1e1e1e"/>
<circle cx="81.9" cy="360.8" r="2.0" fill="#1e1e1e"/>
<circle cx="121.5" cy="360.8" r="2.0" fill="#1e1e1e"/>
<circle cx="150.3" cy="360.8" r="2.0" fill="#1e1e1e"/>
<circle cx="14.4" cy="307.0" r="2.0" fill="#1e1e1e"/>
<circle cx="39.1" cy="377.9" r="2.0" fill="#1e1e1e"/>
<circle cx="39.1" cy="421.3" r="2.0" fill="#1e1e1e"/>
<circle cx="14.4" cy="421.3" r="2.0" fill="#1e1e1e"/>
<circle cx="14.4" cy="478.4" r="2.0" fill="#1e1e1e"/>
<circle cx="60.5" cy="428.3" r="2.0" fill="#1e1e1e"/>
<circle cx="60.5" cy="478.4" r="2.0" fill="#1e1e1e"/>
<circle cx="107.1" cy="428.3" r="2.0" fill="#1e1e1e"/>
<circle cx="107.1" cy="478.4" r="2.0" fill="#1e1e1e"/>
<circle cx="143.2" cy="428.3" r="2.0" fill="#1e1e1e"/>
<circle cx="143.2" cy="478.4" r="2.0" fill="#1e1e1e"/>
<polyline points="71.5,460.5 49.9,446.5" fill="none" stroke="#1e1e1e" stroke-width="1.3"/>
<path d="M49.6,446.3 l5.4,0.2 l-3.4,3.9 z" fill="#1e1e1e"/>
<polyline points="154.2,460.5 132.6,446.5" fill="none" stroke="#1e1e1e" stroke-width="1.3"/>
<path d="M132.3,446.3 l5.4,0.2 l-3.4,3.9 z" fill="#1e1e1e"/>
<circle cx="600.0" cy="307.0" r="2.0" fill="#1e1e1e"/>
<text x="75.5" y="12.0" font-size="9" font-weight="bold" text-anchor="middle" fill="#151515" >6BE6</text>
<text x="64.3" y="139.5" font-size="9.5" font-weight="normal" text-anchor="start" fill="#151515" >R12</text>
<text x="64.3" y="148.1" font-size="6.2" font-weight="normal" text-anchor="start" fill="#151515" >20k</text>
<text x="210.5" y="12.0" font-size="9" font-weight="bold" text-anchor="middle" fill="#151515" >6BA6</text>
<text x="214.0" y="125.0" font-size="9.5" font-weight="normal" text-anchor="start" fill="#151515" >C12</text>
<text x="214.5" y="133.5" font-size="6.2" font-weight="normal" text-anchor="start" fill="#151515" >100nF</text>
<text x="242.5" y="214.0" font-size="9.5" font-weight="normal" text-anchor="start" fill="#151515" >R9</text>
<text x="243.0" y="222.3" font-size="6.2" font-weight="normal" text-anchor="start" fill="#151515" >9k</text>
<text x="118.5" y="126.5" font-size="9.5" font-weight="normal" text-anchor="start" fill="#151515" >TR4</text>
<text x="107.1" y="168.5" font-size="9.5" font-weight="normal" text-anchor="start" fill="#151515" >C14</text>
<text x="193.9" y="168.5" font-size="9.5" font-weight="normal" text-anchor="start" fill="#151515" >C13</text>
<text x="117.2" y="207.3" font-size="6.0" font-weight="normal" text-anchor="start" fill="#151515" >FI 1 455khz</text>
<text x="284.6" y="126.5" font-size="9.5" font-weight="normal" text-anchor="start" fill="#151515" >TR3</text>
<text x="272.0" y="165.0" font-size="9.5" font-weight="normal" text-anchor="start" fill="#151515" >C9</text>
<text x="358.0" y="164.6" font-size="9.5" font-weight="normal" text-anchor="start" fill="#151515" >C8</text>
<text x="284.6" y="207.3" font-size="6.0" font-weight="normal" text-anchor="start" fill="#151515" >FI 2 455khz</text>
<text x="354.0" y="214.0" font-size="9.5" font-weight="normal" text-anchor="start" fill="#151515" >R7</text>
<text x="354.0" y="222.3" font-size="6.2" font-weight="normal" text-anchor="start" fill="#151515" >40k</text>
<text x="390.2" y="200.4" font-size="9.5" font-weight="normal" text-anchor="start" fill="#151515" >C10</text>
<text x="390.2" y="208.3" font-size="6.2" font-weight="normal" text-anchor="start" fill="#151515" >150pf</text>
<text x="358.0" y="264.8" font-size="9.5" font-weight="normal" text-anchor="start" fill="#151515" >C11</text>
<text x="358.0" y="273.2" font-size="6.2" font-weight="normal" text-anchor="start" fill="#151515" >150pf</text>
<text x="138.6" y="237.0" font-size="9.5" font-weight="normal" text-anchor="start" fill="#151515" >R11</text>
<text x="138.6" y="252.3" font-size="6.2" font-weight="normal" text-anchor="start" fill="#151515" >1.2M</text>
<text x="196.4" y="237.0" font-size="9.5" font-weight="normal" text-anchor="start" fill="#151515" >R10</text>
<text x="196.4" y="252.3" font-size="6.2" font-weight="normal" text-anchor="start" fill="#151515" >1.5M</text>
<text x="193.9" y="268.0" font-size="9.5" font-weight="normal" text-anchor="start" fill="#151515" >C15</text>
<text x="193.9" y="276.3" font-size="6.2" font-weight="normal" text-anchor="start" fill="#151515" >50nf</text>
<text x="318.0" y="261.0" font-size="9.5" font-weight="normal" text-anchor="start" fill="#151515" >R8</text>
<text x="318.0" y="269.3" font-size="6.2" font-weight="normal" text-anchor="start" fill="#151515" >22</text>
<text x="403.4" y="12.0" font-size="9" font-weight="bold" text-anchor="middle" fill="#151515" >6AV6</text>
<text x="486.0" y="47.0" font-size="9.5" font-weight="normal" text-anchor="start" fill="#151515" >C4</text>
<text x="486.0" y="54.8" font-size="6.2" font-weight="normal" text-anchor="start" fill="#151515" >1nF</text>
<text x="517.5" y="132.7" font-size="9.5" font-weight="normal" text-anchor="start" fill="#151515" >C1</text>
<text x="517.0" y="155.8" font-size="6.2" font-weight="normal" text-anchor="start" fill="#151515" >10nF</text>
<text x="482.3" y="207.8" font-size="9.5" font-weight="normal" text-anchor="start" fill="#151515" >R2</text>
<text x="482.3" y="215.3" font-size="6.2" font-weight="normal" text-anchor="start" fill="#151515" >200k</text>
<text x="416.7" y="132.7" font-size="9.5" font-weight="normal" text-anchor="start" fill="#151515" >C6</text>
<text x="416.7" y="155.8" font-size="6.2" font-weight="normal" text-anchor="start" fill="#151515" >20nF</text>
<text x="450.7" y="176.0" font-size="9.5" font-weight="normal" text-anchor="start" fill="#151515" >RV2</text>
<text x="450.7" y="226.8" font-size="6.2" font-weight="normal" text-anchor="start" fill="#151515" >500k</text>
<text x="450.7" y="234.3" font-size="6.2" font-weight="normal" text-anchor="start" fill="#151515" >Volume</text>
<text x="417.5" y="268.0" font-size="9.5" font-weight="normal" text-anchor="start" fill="#151515" >R6</text>
<text x="417.5" y="276.3" font-size="6.2" font-weight="normal" text-anchor="start" fill="#151515" >10k</text>
<text x="453.8" y="270.4" font-size="9.5" font-weight="normal" text-anchor="start" fill="#151515" >C7</text>
<text x="453.8" y="279.3" font-size="6.2" font-weight="normal" text-anchor="start" fill="#151515" >47uF</text>
<text x="553.7" y="12.0" font-size="9" font-weight="bold" text-anchor="middle" fill="#151515" >6AQ5</text>
<text x="638.6" y="60.5" font-size="9.5" font-weight="normal" text-anchor="start" fill="#151515" >R5</text>
<text x="638.6" y="70.1" font-size="6.2" font-weight="normal" text-anchor="start" fill="#151515" >250k</text>
<text x="678.2" y="36.2" font-size="8.4" font-weight="normal" text-anchor="start" fill="#151515" >RV1</text>
<text x="677.8" y="44.7" font-size="6.0" font-weight="normal" text-anchor="start" fill="#151515" >500k</text>
<text x="677.8" y="52.7" font-size="6.0" font-weight="normal" text-anchor="start" fill="#151515" >Tonalité</text>
<text x="681.5" y="86.8" font-size="9.5" font-weight="normal" text-anchor="start" fill="#151515" >C5</text>
<text x="681.5" y="94.7" font-size="6.2" font-weight="normal" text-anchor="start" fill="#151515" >2nF</text>
<text x="653.7" y="139.5" font-size="9.5" font-weight="normal" text-anchor="start" fill="#151515" >C20</text>
<text x="653.7" y="146.8" font-size="6.2" font-weight="normal" text-anchor="start" fill="#151515" >4.7nF</text>
<text x="571.3" y="207.8" font-size="9.5" font-weight="normal" text-anchor="start" fill="#151515" >R1</text>
<text x="571.3" y="215.3" font-size="6.2" font-weight="normal" text-anchor="start" fill="#151515" >250k</text>
<text x="619.2" y="196.0" font-size="8.4" font-weight="bold" text-anchor="start" fill="#151515" transform="rotate(-90 619.2 196)">bleu</text>
<text x="621.0" y="210.3" font-size="9.5" font-weight="normal" text-anchor="start" fill="#151515" >TR1</text>
<text x="684.7" y="232.6" font-size="9.5" font-weight="normal" text-anchor="start" fill="#151515" >LS1</text>
<text x="684.7" y="269.8" font-size="6.2" font-weight="normal" text-anchor="start" fill="#151515" >SPEAKER</text>
<text x="621.0" y="290.8" font-size="6.2" font-weight="normal" text-anchor="start" fill="#151515" >5000 ohms</text>
<text x="574.8" y="272.8" font-size="8.5" font-weight="bold" text-anchor="start" fill="#151515" >220v</text>
<text x="548.5" y="303.0" font-size="8.4" font-weight="bold" text-anchor="start" fill="#151515" transform="rotate(-90 548.5 303)">blanc</text>
<text x="310.6" y="323.0" font-size="9.5" font-weight="normal" text-anchor="start" fill="#151515" >R4</text>
<text x="310.6" y="338.3" font-size="6.2" font-weight="normal" text-anchor="start" fill="#151515" >10k</text>
<text x="367.6" y="323.0" font-size="9.5" font-weight="normal" text-anchor="start" fill="#151515" >R3</text>
<text x="367.6" y="338.3" font-size="6.2" font-weight="normal" text-anchor="start" fill="#151515" >180</text>
<text x="414.2" y="322.6" font-size="8.5" font-weight="bold" text-anchor="start" fill="#151515" >-10.4v</text>
<text x="510.7" y="343.0" font-size="8.6" font-weight="bold" text-anchor="start" fill="#151515" >6Y4</text>
<text x="353.1" y="357.2" font-size="9.5" font-weight="normal" text-anchor="start" fill="#151515" >TR2</text>
<text x="314.6" y="379.4" font-size="8.5" font-weight="bold" text-anchor="start" fill="#151515" >220v</text>
<text x="353.1" y="436.8" font-size="6.2" font-weight="normal" text-anchor="start" fill="#151515" >TRAN-2P5S</text>
<text x="393.4" y="450.6" font-size="9.5" font-weight="normal" text-anchor="start" fill="#151515" >L2</text>
<text x="393.4" y="459.0" font-size="6.2" font-weight="normal" text-anchor="start" fill="#151515" >1H</text>
<text x="511.4" y="461.8" font-size="8.5" font-weight="bold" text-anchor="start" fill="#151515" >Chauffage</text>
<text x="549.0" y="347.4" font-size="9.5" font-weight="bold" text-anchor="start" fill="#444" >L1</text>
<text x="549.0" y="370.6" font-size="6.2" font-weight="normal" text-anchor="start" fill="#151515" >exitation</text>
<text x="550.4" y="389.0" font-size="9.5" font-weight="normal" text-anchor="start" fill="#151515" >C3</text>
<text x="550.4" y="397.8" font-size="6.2" font-weight="normal" text-anchor="start" fill="#151515" >10uF</text>
<text x="600.8" y="389.0" font-size="9.5" font-weight="normal" text-anchor="start" fill="#151515" >C2</text>
<text x="600.8" y="397.8" font-size="6.2" font-weight="normal" text-anchor="start" fill="#151515" >10uF</text>
<text x="608.0" y="356.5" font-size="8.4" font-weight="bold" text-anchor="start" fill="#151515" transform="rotate(-90 608 356.5)">rouge</text>
<text x="242.5" y="379.0" font-size="8.6" font-weight="bold" text-anchor="middle" fill="#151515" >EM34</text>
<text x="231.7" y="335.0" font-size="9.5" font-weight="normal" text-anchor="start" fill="#151515" >R17</text>
<text x="231.7" y="343.4" font-size="6.2" font-weight="normal" text-anchor="start" fill="#151515" >1.5M</text>
<text x="193.0" y="390.2" font-size="9.5" font-weight="normal" text-anchor="start" fill="#151515" >R14</text>
<text x="193.0" y="398.8" font-size="6.2" font-weight="normal" text-anchor="start" fill="#151515" >1.5M</text>
<text x="282.0" y="378.0" font-size="9.5" font-weight="normal" text-anchor="start" fill="#151515" >R13</text>
<text x="282.0" y="386.8" font-size="6.2" font-weight="normal" text-anchor="start" fill="#151515" >1.5M</text>
<text x="314.9" y="446.5" font-size="9.5" font-weight="normal" text-anchor="start" fill="#151515" >C18</text>
<text x="314.9" y="455.6" font-size="6.2" font-weight="normal" text-anchor="start" fill="#151515" >50nf</text>
<text x="210.2" y="472.8" font-size="9.5" font-weight="normal" text-anchor="start" fill="#151515" >R15</text>
<text x="210.2" y="488.0" font-size="6.2" font-weight="normal" text-anchor="start" fill="#151515" >500k</text>
<text x="46.6" y="397.6" font-size="8.5" font-weight="bold" text-anchor="start" fill="#151515" >BLOC HF Omega dauphin 3G</text>
<text x="40.3" y="328.5" font-size="9.5" font-weight="normal" text-anchor="start" fill="#151515" >C19</text>
<text x="40.3" y="337.3" font-size="6.2" font-weight="normal" text-anchor="start" fill="#151515" >250pf</text>
<text x="93.3" y="326.0" font-size="9.5" font-weight="normal" text-anchor="start" fill="#151515" >C17</text>
<text x="93.3" y="333.8" font-size="6.2" font-weight="normal" text-anchor="start" fill="#151515" >50pf</text>
<text x="132.3" y="326.0" font-size="9.5" font-weight="normal" text-anchor="start" fill="#151515" >C16</text>
<text x="132.3" y="333.8" font-size="6.2" font-weight="normal" text-anchor="start" fill="#151515" >200pf</text>
<text x="21.4" y="393.0" font-size="9.5" font-weight="normal" text-anchor="start" fill="#151515" >R16</text>
<text x="21.4" y="401.4" font-size="6.2" font-weight="normal" text-anchor="start" fill="#151515" >25k</text>
<text x="75.6" y="453.0" font-size="9.5" font-weight="normal" text-anchor="start" fill="#151515" >VC2</text>
<text x="75.6" y="462.8" font-size="6.2" font-weight="normal" text-anchor="start" fill="#151515" >CAP-VAR</text>
<text x="158.3" y="453.0" font-size="9.5" font-weight="normal" text-anchor="start" fill="#151515" >VC1</text>
<text x="158.3" y="462.8" font-size="6.2" font-weight="normal" text-anchor="start" fill="#151515" >CAP-VAR</text>
<text x="648.2" y="461.8" font-size="8.5" font-weight="bold" text-anchor="middle" fill="#151515" >RADIO SOLO 1953 ?</text>
<text x="647.5" y="472.8" font-size="8.5" font-weight="bold" text-anchor="middle" fill="#151515" >SONOLOR SENSATION</text>
<text x="650.0" y="489.7" font-size="8.5" font-weight="bold" text-anchor="middle" fill="#151515" >F4FDW 2023</text>
</svg></body></html>
